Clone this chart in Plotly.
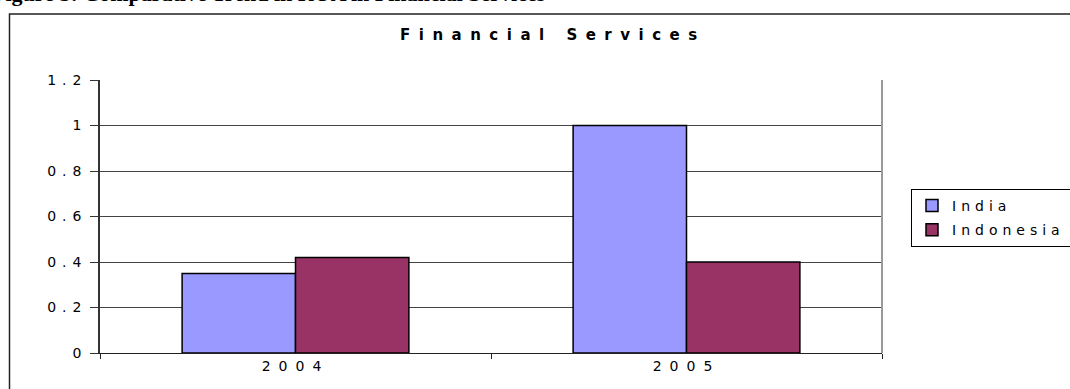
import plotly.graph_objects as go

# Data
years = ["2004", "2005"]
india = [0.35, 1.0]
indonesia = [0.42, 0.40]
y_ticks = [0, 0.2, 0.4, 0.6, 0.8, 1.0, 1.2]
y_tick_labels = ["0", "0.2", "0.4", "0.6", "0.8", "1", "1.2"]

W, H = 1070, 389
FONT = "DejaVu Sans"


def px_x(v):
    return v / W


def px_y(v):
    return 1 - v / H


def spaced(text, ls):
    return f'<span style="letter-spacing:{ls}px">{text}</span>'


fig = go.Figure()
fig.add_trace(go.Bar(
    name=spaced("India", 5), x=[spaced(y, 8) for y in years], y=india,
    legendgroup="india",
    marker=dict(color="#9999FF", line=dict(color="#000000", width=1.5)),
))
fig.add_trace(go.Bar(
    name=spaced("Indonesia", 5), x=[spaced(y, 8) for y in years], y=indonesia,
    legendgroup="indonesia",
    marker=dict(color="#993366", line=dict(color="#000000", width=1.5)),
))

fig.update_layout(
    width=W, height=H, autosize=False,
    margin=dict(l=0, r=0, t=0, b=0, autoexpand=False),
    paper_bgcolor="white", plot_bgcolor="white",
    barmode="group", bargap=0.42, bargroupgap=0,
    font=dict(family=FONT, size=14, color="#000000"),
    showlegend=True,
    legend=dict(
        x=px_x(911), y=px_y(189), xanchor="left", yanchor="top",
        bordercolor="#000000", borderwidth=1, bgcolor="white",
        font=dict(family=FONT, size=14), traceorder="grouped",
        tracegroupgap=3,
    ),
    xaxis=dict(
        domain=[px_x(100), px_x(882)],
        showline=True, linecolor="#222222", linewidth=1,
        ticks="outside", ticklen=5, tickcolor="#222222", tickson="boundaries",
        tickfont=dict(family=FONT, size=14),
        showgrid=False, zeroline=False, fixedrange=True,
    ),
    yaxis=dict(
        domain=[px_y(353), px_y(80)],
        range=[0, 1.2],
        tickvals=y_ticks,
        ticktext=[spaced(t, 6) for t in y_tick_labels],
        showline=True, linecolor="#333333", linewidth=1.5,
        ticks="outside", ticklen=8, tickcolor="#333333",
        tickfont=dict(family=FONT, size=14),
        showgrid=True, gridcolor="#444444", gridwidth=1,
        zeroline=False, fixedrange=True,
    ),
    shapes=[
        # outer chart frame
        dict(type="rect", xref="paper", yref="paper",
             x0=px_x(9.5), x1=1.02, y0=-0.02, y1=px_y(14),
             line=dict(color="#222222", width=1.5), fillcolor="rgba(0,0,0,0)",
             layer="above"),
        # plot area right border
        dict(type="line", xref="paper", yref="paper",
             x0=px_x(882), x1=px_x(882), y0=px_y(353), y1=px_y(80),
             line=dict(color="#999999", width=2)),
    ],
    annotations=[
        dict(text="<b>Figure 5: Comparative Trend in ROA in Financial Services</b>",
             xref="paper", yref="paper", x=px_x(-10), y=px_y(8),
             xanchor="left", yanchor="bottom", showarrow=False,
             font=dict(family="Liberation Serif", size=22, color="#000000")),
        dict(text="<b>" + spaced("Financial Services", 8.5) + "</b>",
             xref="paper", yref="paper", x=px_x(553), y=px_y(35),
             xanchor="center", yanchor="middle", showarrow=False,
             font=dict(family=FONT, size=15, color="#000000")),
    ],
)

fig.write_html("out.html")
